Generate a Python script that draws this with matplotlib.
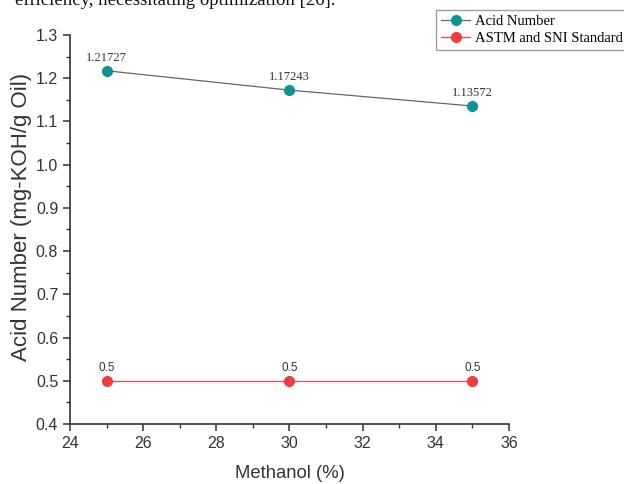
import matplotlib
matplotlib.use("Agg")
import matplotlib.pyplot as plt
from matplotlib.ticker import MultipleLocator, FormatStrFormatter

# data
methanol = [25, 30, 35]
acid_number = [1.21727, 1.17243, 1.13572]
standard = [0.5, 0.5, 0.5]
acid_labels = ["1.21727", "1.17243", "1.13572"]
std_labels = ["0.5", "0.5", "0.5"]

teal = "#0e9490"
red = "#f03c3c"

plt.rcParams['font.family'] = ['Liberation Sans', 'DejaVu Sans']

fig = plt.figure(figsize=(6.24, 4.84), dpi=100)
ax = fig.add_axes([70/624, 1-424/484, (509-70)/624, (424-35)/484])

l1, = ax.plot(methanol, acid_number, color="#666666", lw=0.9, marker="o", ms=7,
              mfc=teal, mec=teal, label="Acid Number")
l2, = ax.plot(methanol, standard, color="#ff4545", lw=0.9, marker="o", ms=7,
              mfc=red, mec=red, label="ASTM and SNI Standard")

for x, y, s in zip(methanol, acid_number, acid_labels):
    ax.annotate(s, (x, y), xytext=(0, 5), textcoords="offset points", ha="center",
                va="bottom", fontsize=9, family="Liberation Serif", color="#333333")
for x, y, s in zip(methanol, standard, std_labels):
    ax.annotate(s, (x, y), xytext=(0, 5), textcoords="offset points", ha="center",
                va="bottom", fontsize=8.5, color="#333333")

ax.set_xlim(24, 36)
ax.set_ylim(0.4, 1.3)
ax.xaxis.set_major_locator(MultipleLocator(2))
ax.xaxis.set_minor_locator(MultipleLocator(1))
ax.yaxis.set_major_locator(MultipleLocator(0.1))
ax.yaxis.set_minor_locator(MultipleLocator(0.05))
ax.yaxis.set_major_formatter(FormatStrFormatter('%.1f'))
ax.spines['top'].set_visible(False)
ax.spines['right'].set_visible(False)
for sp in ['left', 'bottom']:
    ax.spines[sp].set_linewidth(1.2)
    ax.spines[sp].set_color("#333333")
ax.tick_params(which='major', direction='out', length=5, width=1.1, labelsize=11.5,
               colors="#333333")
ax.tick_params(which='minor', direction='out', length=3, width=1.0, colors="#333333")

# axis titles placed to match the original
fig.text(290/624, 1-473/484, "Methanol (%)", fontsize=13.3, color="#333333",
         ha="center", va="center")
fig.text(22/624, 1-217/484, "Acid Number (mg-KOH/g Oil)", fontsize=16, color="#333333",
         ha="center", va="center", rotation=90)

fig.legend(handles=[l1, l2], loc="upper left", bbox_to_anchor=(436/624, 1-10/484),
           prop={'family': 'Liberation Serif', 'size': 10.5}, frameon=True,
           fancybox=False, edgecolor="#888888", handlelength=2.0, handletextpad=0.3,
           borderpad=0.35, labelspacing=0.25, borderaxespad=0)

# clipped caption line from the page above the chart
fig.text(15/624, 1-5/484, "efficiency, necessitating optimization [26].",
         family="Liberation Serif", fontsize=13.5, va="baseline", ha="left", color="#111111")

fig.savefig("out.png", dpi=100)
